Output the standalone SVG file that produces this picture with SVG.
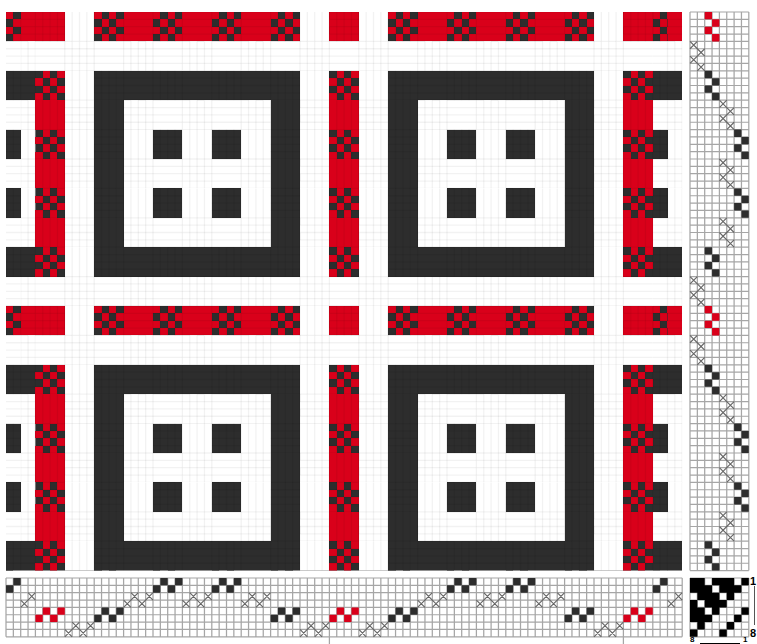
<svg xmlns="http://www.w3.org/2000/svg" width="757" height="644" viewBox="0 0 757 644">
<style>
.dk{fill:#2d2d2d}.rd{fill:#d9001a}.wh{fill:#fff}
#drawdown{shape-rendering:crispEdges}
.ln{fill:none;stroke:#000;stroke-opacity:.05;stroke-width:.18;shape-rendering:auto}
.grid{fill:none;stroke:#a6a6a6;stroke-width:.17}
.x{fill:none;stroke:#666;stroke-width:.16}
.lab{font:bold 11px "Liberation Sans",sans-serif;fill:#000}
.lab2{font:bold 8px "Liberation Sans",sans-serif;fill:#000}
</style>
<defs>
<path id="Kf" d="M1 0h1v1h-1zM3 0h1v1h-1zM0 1h1v1h-1zM2 1h1v1h-1zM1 2h1v1h-1zM3 2h1v1h-1zM0 3h1v1h-1zM2 3h1v1h-1z"/>
<path id="Vl" class="ln" d="M0 0v4M1 0v4M2 0v4M3 0v4M4 0v4"/>
<path id="Hl" class="ln" d="M0 0h4M0 1h4M0 2h4M0 3h4M0 4h4"/>
<g id="K"><use href="#Kf"/><use href="#Vl"/><use href="#Hl"/></g>
<g id="F"><path d="M0 0h4v4h-4z"/><use href="#Vl"/></g>
<use id="N" href="#Hl"/>
<g id="A"><use href="#K"/><use href="#N" y="4"/><use href="#K" y="8"/><use href="#N" y="12"/><use href="#K" y="16"/><use href="#N" y="20"/><use href="#K" y="24"/><use href="#N" y="28"/><use href="#K" y="32"/><use href="#N" y="36"/><use href="#K" y="40"/><use href="#N" y="44"/><use href="#K" y="48"/><use href="#N" y="52"/><use href="#K" y="56"/><use href="#N" y="60"/><use href="#K" y="64"/><use href="#N" y="68"/><use href="#K" y="72"/></g>
<g id="B"><use href="#N"/><use href="#K" y="4"/><use href="#N" y="8"/><use href="#K" y="12"/><use href="#F" y="16"/><use href="#K" y="20"/><use href="#F" y="24"/><use href="#K" y="28"/><use href="#N" y="32"/><use href="#K" y="36"/><use href="#N" y="40"/><use href="#K" y="44"/><use href="#N" y="48"/><use href="#K" y="52"/><use href="#F" y="56"/><use href="#K" y="60"/><use href="#F" y="64"/><use href="#K" y="68"/><use href="#N" y="72"/></g>
<g id="C"><use href="#K"/><use href="#N" y="4"/><use href="#K" y="8"/><use href="#F" y="12"/><use href="#K" y="16"/><use href="#F" y="20"/><use href="#K" y="24"/><use href="#F" y="28"/><use href="#K" y="32"/><use href="#N" y="36"/><use href="#K" y="40"/><use href="#N" y="44"/><use href="#K" y="48"/><use href="#F" y="52"/><use href="#K" y="56"/><use href="#F" y="60"/><use href="#K" y="64"/><use href="#F" y="68"/><use href="#K" y="72"/></g>
<g id="D"><use href="#F"/><use href="#K" y="4"/><use href="#F" y="8"/><use href="#K" y="12"/><use href="#F" y="16"/><use href="#K" y="20"/><use href="#F" y="24"/><use href="#K" y="28"/><use href="#F" y="32"/><use href="#K" y="36"/><use href="#F" y="40"/><use href="#K" y="44"/><use href="#F" y="48"/><use href="#K" y="52"/><use href="#F" y="56"/><use href="#K" y="60"/><use href="#F" y="64"/><use href="#K" y="68"/><use href="#F" y="72"/></g>
<clipPath id="half"><rect width="2" height="76"/></clipPath>
<clipPath id="dd"><rect width="92" height="76"/></clipPath>
<path id="ts" d="M0 1h1v1h-1zM1 0h1v1h-1zM2 1h1v1h-1zM3 0h1v1h-1z"/>
<path id="tsh" d="M0 1h1v1h-1zM1 0h1v1h-1z"/>
<path id="tx" class="x" d="M0 1l1 1M1 1l-1 1M1 0l1 1M2 0l-1 1M2 1l1 1M3 1l-1 1M3 0l1 1M4 0l-1 1"/>
<path id="txh" class="x" d="M0 1l1 1M1 1l-1 1M1 0l1 1M2 0l-1 1"/>
<path id="ps" d="M0 0h1v1h-1zM1 1h1v1h-1zM0 2h1v1h-1zM1 3h1v1h-1z"/>
<path id="px" class="x" d="M0 0l1 1M1 0l-1 1M1 1l1 1M2 1l-1 1M0 2l1 1M1 2l-1 1M1 3l1 1M2 3l-1 1"/>
</defs>
<rect width="757" height="644" fill="#fff"/>
<g id="drawdown" transform="translate(6,12) scale(7.35)">
<g clip-path="url(#dd)">
<g id="weft">
<rect class="rd" y="0" width="92" height="4"/>
<rect class="dk" y="8" width="92" height="4"/>
<rect class="dk" y="16" width="92" height="4"/>
<rect class="dk" y="24" width="92" height="4"/>
<rect class="dk" y="32" width="92" height="4"/>
<rect class="rd" y="40" width="92" height="4"/>
<rect class="dk" y="48" width="92" height="4"/>
<rect class="dk" y="56" width="92" height="4"/>
<rect class="dk" y="64" width="92" height="4"/>
<rect class="dk" y="72" width="92" height="4"/>
</g>
<g id="warp">
<use href="#A" class="dk" x="-2"/>
<use href="#B" class="wh" transform="translate(2)" clip-path="url(#half)"/>
<use href="#C" class="rd" x="4"/><use href="#D" class="wh" x="8"/><use href="#C" class="dk" x="12"/><use href="#B" class="wh" x="16"/><use href="#A" class="dk" x="20"/><use href="#B" class="wh" x="24"/><use href="#A" class="dk" x="28"/><use href="#B" class="wh" x="32"/><use href="#C" class="dk" x="36"/><use href="#D" class="wh" x="40"/><use href="#C" class="rd" x="44"/><use href="#D" class="wh" x="48"/><use href="#C" class="dk" x="52"/><use href="#B" class="wh" x="56"/><use href="#A" class="dk" x="60"/><use href="#B" class="wh" x="64"/><use href="#A" class="dk" x="68"/><use href="#B" class="wh" x="72"/><use href="#C" class="dk" x="76"/><use href="#D" class="wh" x="80"/><use href="#C" class="rd" x="84"/>
<use href="#A" class="dk" transform="translate(88)" clip-path="url(#half)"/>
<use href="#B" class="wh" x="90"/>
</g>
</g>
</g>
<g id="threading" transform="translate(6,578) scale(7.35)">
<path class="grid" d="M0 0h92M0 1h92M0 2h92M0 3h92M0 4h92M0 5h92M0 6h92M0 7h92M0 8h92M0 0v8M1 0v8M2 0v8M3 0v8M4 0v8M5 0v8M6 0v8M7 0v8M8 0v8M9 0v8M10 0v8M11 0v8M12 0v8M13 0v8M14 0v8M15 0v8M16 0v8M17 0v8M18 0v8M19 0v8M20 0v8M21 0v8M22 0v8M23 0v8M24 0v8M25 0v8M26 0v8M27 0v8M28 0v8M29 0v8M30 0v8M31 0v8M32 0v8M33 0v8M34 0v8M35 0v8M36 0v8M37 0v8M38 0v8M39 0v8M40 0v8M41 0v8M42 0v8M43 0v8M44 0v9M45 0v8M46 0v8M47 0v8M48 0v8M49 0v8M50 0v8M51 0v8M52 0v8M53 0v8M54 0v8M55 0v8M56 0v8M57 0v8M58 0v8M59 0v8M60 0v8M61 0v8M62 0v8M63 0v8M64 0v8M65 0v8M66 0v8M67 0v8M68 0v8M69 0v8M70 0v8M71 0v8M72 0v8M73 0v8M74 0v8M75 0v8M76 0v8M77 0v8M78 0v8M79 0v8M80 0v8M81 0v8M82 0v8M83 0v8M84 0v9M85 0v8M86 0v8M87 0v8M88 0v8M89 0v8M90 0v8M91 0v8M92 0v8"/>
<use href="#tsh" class="dk"/><use href="#txh" x="2" y="2"/>
<use href="#ts" class="rd" x="4" y="4"/><use href="#tx" x="8" y="6"/><use href="#ts" class="dk" x="12" y="4"/><use href="#tx" x="16" y="2"/><use href="#ts" class="dk" x="20"/><use href="#tx" x="24" y="2"/><use href="#ts" class="dk" x="28"/><use href="#tx" x="32" y="2"/><use href="#ts" class="dk" x="36" y="4"/><use href="#tx" x="40" y="6"/><use href="#ts" class="rd" x="44" y="4"/><use href="#tx" x="48" y="6"/><use href="#ts" class="dk" x="52" y="4"/><use href="#tx" x="56" y="2"/><use href="#ts" class="dk" x="60"/><use href="#tx" x="64" y="2"/><use href="#ts" class="dk" x="68"/><use href="#tx" x="72" y="2"/><use href="#ts" class="dk" x="76" y="4"/><use href="#tx" x="80" y="6"/><use href="#ts" class="rd" x="84" y="4"/>
<use href="#tsh" class="dk" x="88"/><use href="#txh" x="90" y="2"/>
</g>
<g id="treadling" transform="translate(690,12) scale(7.35)">
<path class="grid" d="M0 0v76M1 0v76M2 0v76M3 0v76M4 0v76M5 0v76M6 0v76M7 0v76M8 0v76M0 0h8M0 1h8M0 2h8M0 3h8M0 4h8M0 5h8M0 6h8M0 7h8M0 8h8M0 9h8M0 10h8M0 11h8M0 12h8M0 13h8M0 14h8M0 15h8M0 16h8M0 17h8M0 18h8M0 19h8M0 20h8M0 21h8M0 22h8M0 23h8M0 24h8M0 25h8M0 26h8M0 27h8M0 28h8M0 29h8M0 30h8M0 31h8M0 32h8M0 33h8M0 34h8M0 35h8M0 36h8M0 37h8M0 38h8M0 39h8M0 40h8M0 41h8M0 42h8M0 43h8M0 44h8M0 45h8M0 46h8M0 47h8M0 48h8M0 49h8M0 50h8M0 51h8M0 52h8M0 53h8M0 54h8M0 55h8M0 56h8M0 57h8M0 58h8M0 59h8M0 60h8M0 61h8M0 62h8M0 63h8M0 64h8M0 65h8M0 66h8M0 67h8M0 68h8M0 69h8M0 70h8M0 71h8M0 72h8M0 73h8M0 74h8M0 75h8M0 76h8"/>
<use href="#ps" class="rd" x="2" y="0"/><use href="#px" x="0" y="4"/><use href="#ps" class="dk" x="2" y="8"/><use href="#px" x="4" y="12"/><use href="#ps" class="dk" x="6" y="16"/><use href="#px" x="4" y="20"/><use href="#ps" class="dk" x="6" y="24"/><use href="#px" x="4" y="28"/><use href="#ps" class="dk" x="2" y="32"/><use href="#px" x="0" y="36"/><use href="#ps" class="rd" x="2" y="40"/><use href="#px" x="0" y="44"/><use href="#ps" class="dk" x="2" y="48"/><use href="#px" x="4" y="52"/><use href="#ps" class="dk" x="6" y="56"/><use href="#px" x="4" y="60"/><use href="#ps" class="dk" x="6" y="64"/><use href="#px" x="4" y="68"/><use href="#ps" class="dk" x="2" y="72"/>
</g>
<g id="tieup" transform="translate(690,578) scale(7.35)">
<path class="grid" d="M0 0h8M0 1h8M0 2h8M0 3h8M0 4h8M0 5h8M0 6h8M0 7h8M0 8h8M0 0v8M1 0v8M2 0v8M3 0v8M4 0v8M5 0v8M6 0v8M7 0v8M8 0v8"/>
<path fill="#000" d="M0 0h2v1h-2zM3 0h3v1h-3zM7 0h1v1h-1zM0 1h3v1h-3zM4 1h3v1h-3zM1 2h3v1h-3zM5 2h1v1h-1zM0 3h1v1h-1zM2 3h3v1h-3zM0 4h2v1h-2zM3 4h1v1h-1zM7 4h1v1h-1zM0 5h3v1h-3zM6 5h1v1h-1zM1 6h1v1h-1zM5 6h1v1h-1zM0 7h1v1h-1zM4 7h1v1h-1z"/>
</g>
<g id="labels">
<text class="lab" x="750" y="585">1</text>
<text class="lab" x="750" y="637">8</text>
<line x1="754.5" y1="586" x2="754.5" y2="625" stroke="#555" stroke-width="1"/>
<text class="lab2" x="690" y="642">8</text>
<text class="lab2" x="743" y="642">1</text>
<line x1="700" y1="643.5" x2="740" y2="643.5" stroke="#000" stroke-width="1"/>
</g>
</svg>
